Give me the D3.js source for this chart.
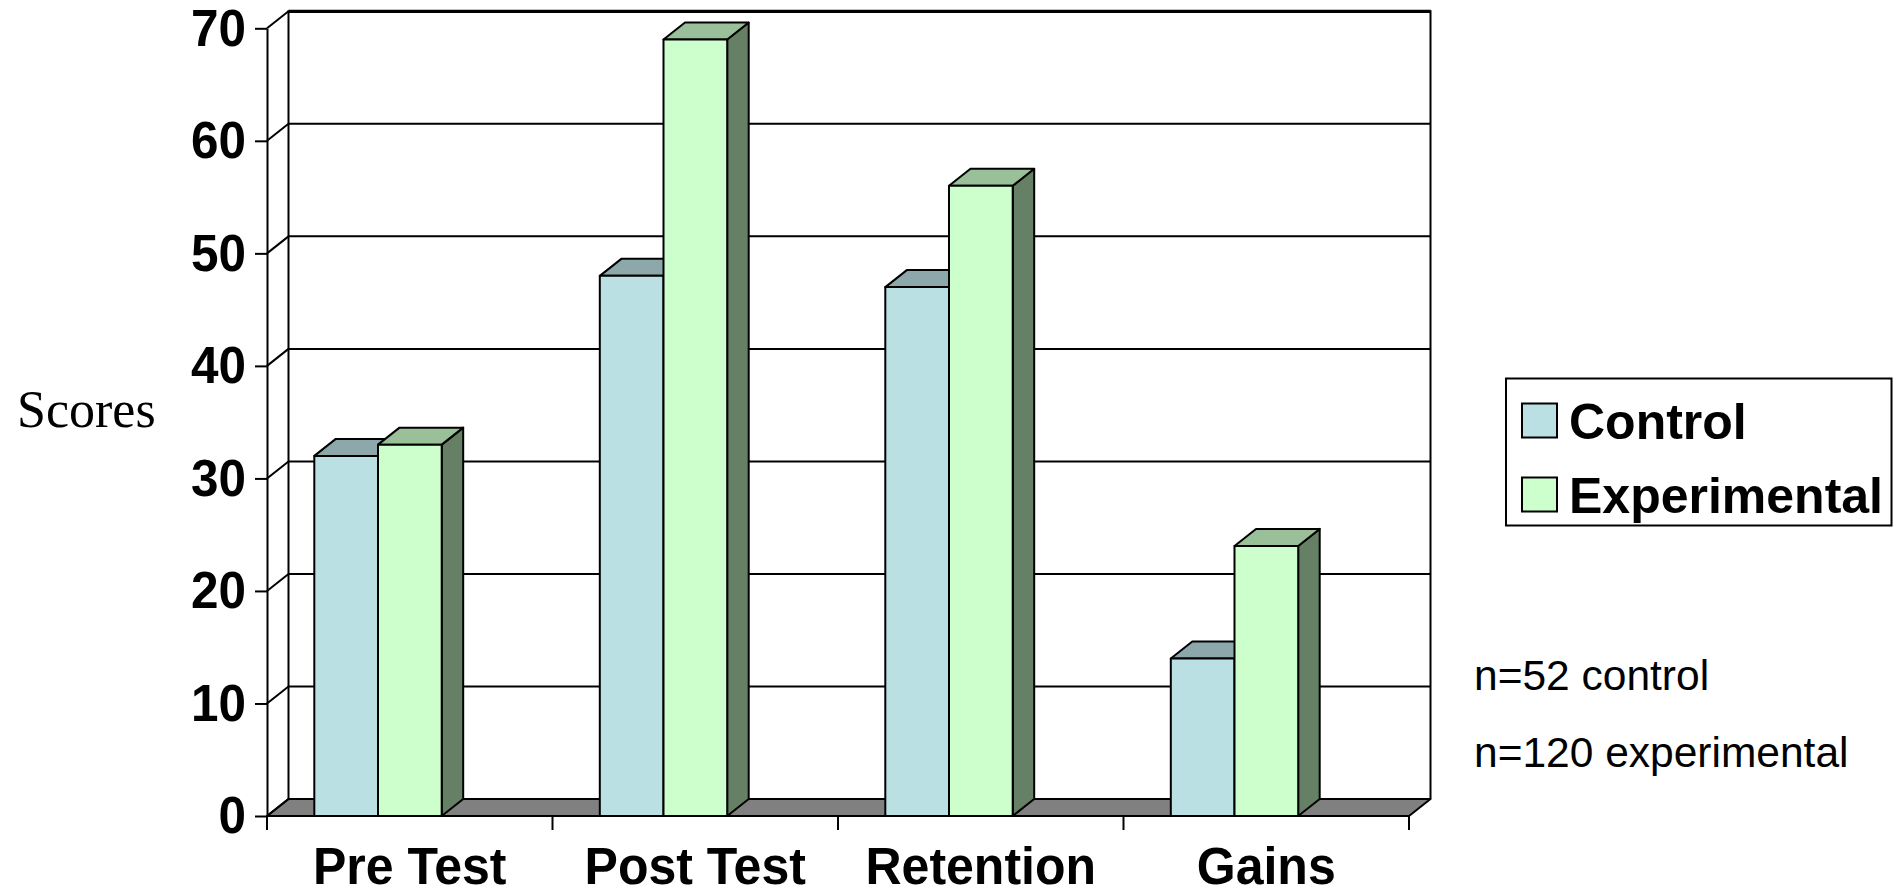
<!DOCTYPE html>
<html>
<head>
<meta charset="utf-8">
<script src="https://cdn.jsdelivr.net/npm/d3@7"></script>
<style>
  body { margin: 0; background: #fff; }
  svg { display: block; }
</style>
</head>
<body>
<svg id="chart" width="1897" height="895"></svg>
<script>
// ---- data ----
const categories = ["Pre Test", "Post Test", "Retention", "Gains"];
const seriesNames = ["Control", "Experimental"];
const controlScores = [32, 48, 47, 14];
const experimentalScores = [33, 69, 56, 24];
const yTicks = [0, 10, 20, 30, 40, 50, 60, 70];
const yLabel = "Scores";
const notes = ["n=52 control", "n=120 experimental"];

// ---- styling ----
const palette = {
  Control:      { front: "#BBE0E3", top: "#8CA8AA", side: "#5E7072" },
  Experimental: { front: "#CCFFCC", top: "#99C099", side: "#668066" }
};
const sans = "'Liberation Sans', Arial, Helvetica, sans-serif";
const serif = "'Liberation Serif', 'Times New Roman', serif";

const svg = d3.select("#chart");
const plot = { left: 267, right: 1409, bottom: 816, top: 28.3 };
const depth = { dx: 21.5, dy: -17 };

const y = d3.scaleLinear().domain([0, 70]).range([plot.bottom, plot.top]);
const x = d3.scaleBand().domain(categories).range([plot.left, plot.right]);
const bw = x.bandwidth();
const xs = d3.scaleBand().domain(seriesNames).range([bw * 0.1657, bw * (0.1657 + 0.4462)]);

const valuesBySeries = { Control: controlScores, Experimental: experimentalScores };

// horizontally stretch/squeeze text to the face proportions used by the chart
function stretch(sel, factor) {
  sel.each(function () {
    const w = this.getComputedTextLength();
    d3.select(this).attr("textLength", w * factor).attr("lengthAdjust", "spacingAndGlyphs");
  });
}

const y0 = y(0);
const pts = p => p.map(d => d.join(",")).join(" ");

// ---- floor ----
svg.append("polygon")
  .attr("points", pts([
    [plot.left, y0], [plot.right, y0],
    [plot.right + depth.dx, y0 + depth.dy], [plot.left + depth.dx, y0 + depth.dy]
  ]))
  .attr("fill", "#808080").attr("stroke", "#000").attr("stroke-width", 2)
  .attr("stroke-linejoin", "round");

// ---- back wall gridlines ----
const walls = svg.append("g").attr("stroke", "#000").attr("fill", "none");
walls.selectAll("line.grid")
  .data(yTicks.filter(v => v > 0))
  .join("line")
  .attr("class", "grid")
  .attr("x1", plot.left + depth.dx).attr("x2", plot.right + depth.dx)
  .attr("y1", d => y(d) + depth.dy).attr("y2", d => y(d) + depth.dy)
  .attr("stroke-width", d => d === 70 ? 3.2 : 2);

// left wall diagonals
walls.selectAll("line.diag")
  .data(yTicks)
  .join("line")
  .attr("class", "diag")
  .attr("x1", plot.left).attr("y1", d => y(d))
  .attr("x2", plot.left + depth.dx).attr("y2", d => y(d) + depth.dy)
  .attr("stroke-width", 2);

// back wall verticals
walls.selectAll("line.edge")
  .data([plot.left + depth.dx, plot.right + depth.dx])
  .join("line")
  .attr("class", "edge")
  .attr("x1", d => d).attr("x2", d => d)
  .attr("y1", y(0) + depth.dy).attr("y2", y(70) + depth.dy - 1)
  .attr("stroke-width", 2);

// ---- bars ----
const bars = svg.append("g").attr("stroke", "#000").attr("stroke-width", 2).attr("stroke-linejoin", "round");
categories.forEach((cat, i) => {
  seriesNames.forEach(s => {
    const v = valuesBySeries[s][i];
    const x0 = x(cat) + xs(s);
    const w = xs.bandwidth();
    const yt = y(v);
    const c = palette[s];
    const g = bars.append("g");
    g.append("polygon")
      .attr("points", pts([[x0 + w, yt], [x0 + w + depth.dx, yt + depth.dy],
                           [x0 + w + depth.dx, y0 + depth.dy], [x0 + w, y0]]))
      .attr("fill", c.side);
    g.append("polygon")
      .attr("points", pts([[x0, yt], [x0 + w, yt],
                           [x0 + w + depth.dx, yt + depth.dy], [x0 + depth.dx, yt + depth.dy]]))
      .attr("fill", c.top);
    g.append("rect")
      .attr("x", x0).attr("y", yt).attr("width", w).attr("height", y0 - yt)
      .attr("fill", c.front);
  });
});

// front floor edge on top of the bar bottoms
svg.append("line")
  .attr("x1", plot.left).attr("x2", plot.right)
  .attr("y1", y0).attr("y2", y0)
  .attr("stroke", "#000").attr("stroke-width", 2);

// ---- y axis ----
const yAxis = svg.append("g")
  .attr("transform", `translate(${plot.left},0)`)
  .call(d3.axisLeft(y).tickValues(yTicks).tickSize(12).tickSizeOuter(0).tickPadding(9));
yAxis.select(".domain").attr("stroke", "#000").attr("stroke-width", 2);
yAxis.selectAll(".tick line").attr("stroke", "#000").attr("stroke-width", 2);
yAxis.selectAll(".tick text")
  .attr("font-family", sans).attr("font-weight", "bold").attr("font-size", 51)
  .attr("fill", "#000").attr("dy", "0.33em")
  .call(stretch, 0.97);

// ---- category axis ----
const bounds = categories.map(c => x(c)).concat([plot.right]);
svg.append("g").selectAll("line")
  .data(bounds)
  .join("line")
  .attr("x1", d => d).attr("x2", d => d)
  .attr("y1", y0).attr("y2", y0 + 14)
  .attr("stroke", "#000").attr("stroke-width", 2);

svg.append("g").selectAll("text")
  .data(categories)
  .join("text")
  .attr("x", d => x(d) + bw / 2)
  .attr("y", 884)
  .attr("text-anchor", "middle")
  .attr("font-family", sans).attr("font-weight", "bold").attr("font-size", 51)
  .text(d => d)
  .call(stretch, 0.98);

// ---- axis title ----
svg.append("text")
  .attr("x", 17).attr("y", 427)
  .attr("font-family", serif).attr("font-size", 52)
  .text(yLabel);

// ---- legend ----
const legend = svg.append("g");
legend.append("rect")
  .attr("x", 1506).attr("y", 378.5).attr("width", 385.5).attr("height", 147)
  .attr("fill", "#fff").attr("stroke", "#000").attr("stroke-width", 2);
const rowY = d3.scalePoint().domain(seriesNames).range([420.5, 494.5]);
legend.selectAll("rect.swatch")
  .data(seriesNames)
  .join("rect")
  .attr("class", "swatch")
  .attr("x", 1522).attr("y", d => rowY(d) - 17)
  .attr("width", 35).attr("height", 34)
  .attr("fill", d => palette[d].front)
  .attr("stroke", "#000").attr("stroke-width", 2);
legend.selectAll("text")
  .data(seriesNames)
  .join("text")
  .attr("x", 1569).attr("y", d => rowY(d) + 18)
  .attr("font-family", sans).attr("font-weight", "bold").attr("font-size", 50)
  .text(d => d);

// ---- sample size notes ----
svg.append("g").selectAll("text")
  .data(notes)
  .join("text")
  .attr("x", 1474)
  .attr("y", (d, i) => 690 + i * 77)
  .attr("font-family", sans).attr("font-size", 42.5)
  .text(d => d);
</script>
</body>
</html>
